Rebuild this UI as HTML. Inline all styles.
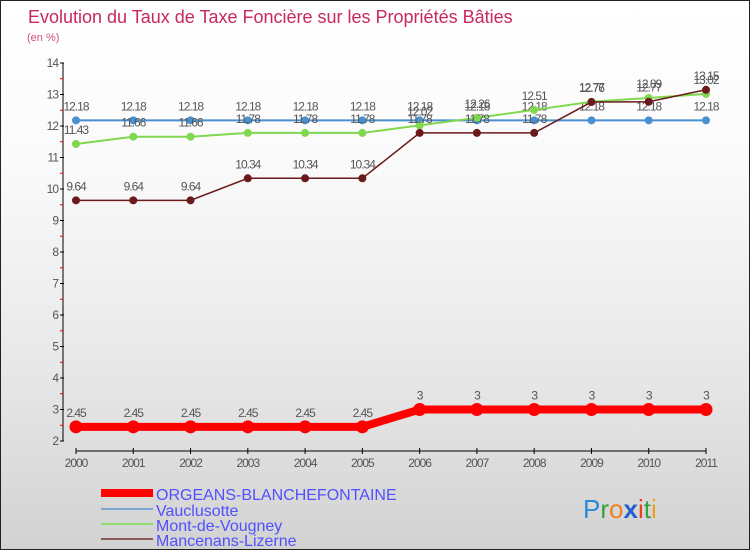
<!DOCTYPE html>
<html><head><meta charset="utf-8"><style>
body{margin:0}
#c{width:750px;height:550px;position:relative;background:linear-gradient(#ffffff,#fafafa 30%,#e6e6e6 70%,#d2d2d2);border:1px solid #222;box-sizing:border-box;overflow:hidden;font-family:"Liberation Sans",sans-serif}
svg text{font-family:"Liberation Sans",sans-serif}
</style></head><body>
<div id="c">
<svg id="s" width="750" height="550">
<text x="27" y="22" font-size="18" fill="#c8285a">Evolution du Taux de Taxe Foncière sur les Propriétés Bâties</text>
<text x="26" y="40" font-size="11" fill="#d25080">(en %)</text>
<g id="axes"></g><g id="series"></g>
<g>
<line x1="100" y1="492" x2="152" y2="492" stroke="#f00" stroke-width="8"/>
<text x="155" y="499" font-size="16" fill="#5050ff">ORGEANS-BLANCHEFONTAINE</text>
<line x1="100" y1="508" x2="152" y2="508" stroke="#78a8d0" stroke-width="2"/>
<text x="155" y="515" font-size="16" fill="#5050ff">Vauclusotte</text>
<line x1="100" y1="523" x2="152" y2="523" stroke="#90dc6e" stroke-width="2"/>
<text x="155" y="530" font-size="16" fill="#5050ff">Mont-de-Vougney</text>
<line x1="100" y1="538" x2="152" y2="538" stroke="#905a5a" stroke-width="2"/>
<text x="155" y="545" font-size="16" fill="#5050ff">Mancenans-Lizerne</text>
</g>
<text x="582" y="517" font-size="26" font-family="DejaVu Sans"><tspan fill="#2a8ad8">P</tspan><tspan fill="#3aa040">r</tspan><tspan fill="#f08020">o</tspan><tspan fill="#2060d0" font-weight="bold">x</tspan><tspan fill="#e84020">i</tspan><tspan fill="#3aa040">t</tspan><tspan fill="#f0a020">i</tspan></text>
</svg></div>
<script>
const years=[2000,2001,2002,2003,2004,2005,2006,2007,2008,2009,2010,2011];
const orgeans=[2.45,2.45,2.45,2.45,2.45,2.45,3,3,3,3,3,3];
const vauclusotte=[12.18,12.18,12.18,12.18,12.18,12.18,12.18,12.18,12.18,12.18,12.18,12.18];
const montVougney=[11.43,11.66,11.66,11.78,11.78,11.78,12.02,12.26,12.51,12.77,12.89,13.02];
const mancenans=[9.64,9.64,9.64,10.34,10.34,10.34,11.78,11.78,11.78,12.76,12.77,13.15];
const yTicks=[2,3,4,5,6,7,8,9,10,11,12,13,14];
const NS="http://www.w3.org/2000/svg";
const x=i=>75+i*(630/(years.length-1));
const y=v=>440-(v-2)*31.5;
function mk(t,a,p){const e=document.createElementNS(NS,t);for(const k in a)e.setAttribute(k,a[k]);p.appendChild(e);return e;}
const ax=document.getElementById('axes');
const yl=mk('line',{x1:62,y1:y(14),x2:62,y2:y(2),stroke:'#000'},ax);


yTicks.forEach(v=>{
 mk('line',{x1:59,y1:y(v),x2:63,y2:y(v),stroke:'#000'},ax);
 if(v<14)mk('line',{x1:59,y1:y(v+0.5),x2:62,y2:y(v+0.5),stroke:'#e00'},ax);
 const t=mk('text',{x:57,y:y(v)+4,'font-size':12,fill:'#555','text-anchor':'end','letter-spacing':'-1'},ax);
 t.textContent=v;
 
 
});
const xl=mk('line',{x1:75,y1:450,x2:705,y2:450,stroke:'#000'},ax);


years.forEach((yr,i)=>{
 mk('line',{x1:x(i),y1:447,x2:x(i),y2:453,stroke:'#000'},ax);
 const t=mk('text',{x:x(i),y:466,'font-size':12,fill:'#555','text-anchor':'middle','letter-spacing':'-1'},ax);
 t.textContent=yr;
 
 
});
const sg=document.getElementById('series');
function draw(vals,name,color,w,r){
 const g=mk('g',{},sg);
 
 
 mk('polyline',{points:vals.map((v,i)=>x(i)+','+y(v)).join(' '),fill:'none',stroke:color,'stroke-width':w},g);
 vals.forEach((v,i)=>{
  const c=mk('circle',{cx:x(i),cy:y(v),r:r,fill:color},g);
  
  
  const t=mk('text',{x:x(i),y:y(v)-10,'font-size':12,fill:'#555','text-anchor':'middle','letter-spacing':'-1'},g);
  t.textContent=v;
  
  
 });
}
draw(vauclusotte,'vauclusotte','#4a90d0',2,4);
draw(montVougney,'mont-de-vougney','#80d850',2,4);
draw(mancenans,'mancenans-lizerne','#6a1a1a',1.5,4);
draw(orgeans,'orgeans','#f00',8,6.5);
</script>
</body></html>
